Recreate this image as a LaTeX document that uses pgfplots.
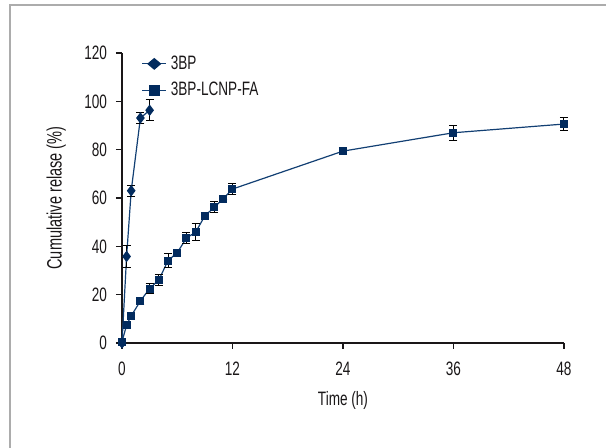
\documentclass[border=0pt]{standalone}
\usepackage{pgfplots}
\pgfplotsset{compat=1.18}
\usepackage{fontspec}
\setmainfont{Liberation Sans}[FakeStretch=0.7]
\definecolor{navy}{HTML}{022B5E}
\definecolor{linec}{HTML}{123F73}
\definecolor{txt}{HTML}{1A1718}
\begin{document}
\begin{tikzpicture}
\useasboundingbox (0,0) rectangle (303pt,224pt);
\draw[gray!65, line width=0.7pt] (5pt,0) -- (5pt,221.5pt) -- (303pt,221.5pt);
\begin{axis}[
  at={(61pt,52.5pt)}, anchor=origin,
  scale only axis, width=221pt, height=145pt,
  xmin=0, xmax=48, ymin=0, ymax=120,
  axis lines=left, axis line style={-, line width=0.65pt, txt},
  xtick={0,12,24,36,48}, ytick={0,20,...,120},
  tick align=outside, major tick length=3pt,
  tick style={line width=0.65pt, txt},
  font=\fontsize{9.7pt}{11pt}\selectfont,
  /pgf/number format/assume math mode=true,
  ticklabel style={text=txt},
  xticklabel style={yshift=-3pt},
  yticklabel style={xshift=-1pt},
  every axis x label/.style={at={(axis description cs:0.5,-0.197)}, anchor=center, text=txt},
  every axis y label/.style={at={(axis description cs:-0.149,0.5)}, rotate=90, anchor=center, text=txt, font=\fontsize{10.4pt}{12pt}\selectfont},
  xlabel={Time (h)}, ylabel={Cumulative relase (\%)},
  legend style={at={(axis description cs:0.03,1.02)}, anchor=north west, draw=none, fill=none, row sep=1pt, text=txt, font=\fontsize{9.7pt}{11pt}\selectfont},
  legend cell align=left,
  clip=false,
]
\addplot[linec, line width=0.6pt, mark=diamond*, mark size=2.4pt, mark options={navy, fill=navy, solid},
  legend image code/.code={\draw[linec, line width=0.6pt] (0pt,0pt) -- (12pt,0pt); \fill[navy] (6pt,-2.6pt) -- (9.1pt,0pt) -- (6pt,2.6pt) -- (2.9pt,0pt) -- cycle;},
  error bars/.cd, y dir=both, y explicit, error bar style={black, line width=0.5pt}, error mark options={black, rotate=90, mark size=2pt, line width=0.5pt}]
  coordinates {(0,0) +- (0,0) (0.5,35.8) +- (0,4.5) (1,63.0) +- (0,2.3) (2,93.1) +- (0,2.2) (3,96.3) +- (0,4.3)};
\addlegendentry{3BP}
\addplot[linec, line width=0.6pt, mark=square*, mark size=1.7pt, mark options={navy, fill=navy, solid},
  legend image code/.code={\draw[linec, line width=0.6pt] (0pt,0pt) -- (12pt,0pt); \fill[navy] (3.6pt,-2.4pt) rectangle (8.4pt,2.4pt);},
  error bars/.cd, y dir=both, y explicit, error bar style={black, line width=0.5pt}, error mark options={black, rotate=90, mark size=2pt, line width=0.5pt}]
  coordinates {
  (0,0.5) +- (0,0.3)
  (0.5,7.4) +- (0,1.0)
  (1,11.2) +- (0,1.5)
  (2,17.4) +- (0,1.5)
  (3,22.5) +- (0,2.1)
  (4,26.1) +- (0,2.2)
  (5,34.1) +- (0,2.9)
  (6,37.4) +- (0,1.0)
  (7,43.4) +- (0,2.2)
  (8,45.9) +- (0,3.4)
  (9,52.6) +- (0,1.5)
  (10,56.1) +- (0,2.3)
  (11,59.7) +- (0,0.5)
  (12,63.7) +- (0,2.3)
  (24,79.4) +- (0,1.5)
  (36,87.0) +- (0,3.2)
  (48,90.6) +- (0,2.8)};
\addlegendentry{3BP-LCNP-FA}
\end{axis}
\end{tikzpicture}
\end{document}
